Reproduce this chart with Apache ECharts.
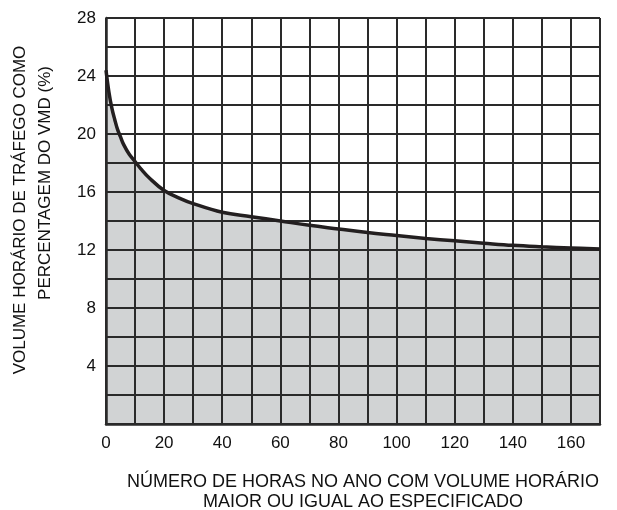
<!DOCTYPE html>
<html>
<head>
<meta charset="utf-8">
<script src="https://cdn.jsdelivr.net/npm/echarts@6/dist/echarts.min.js"></script>
<style>html,body{margin:0;padding:0;background:#fff}#c{width:617px;height:510px}</style>
</head>
<body>
<div id="c"></div>
<script>
const hours = [0, 1, 2, 3, 4, 5, 6, 8, 10, 12, 15, 20, 25, 30, 40, 50, 60, 70, 80, 90, 100, 110, 120, 130, 140, 150, 160, 170];
const volumePct = [24.4, 22.9, 21.8, 21.0, 20.3, 19.8, 19.3, 18.6, 18.1, 17.6, 16.95, 16.1, 15.6, 15.2, 14.6, 14.3, 14.0, 13.7, 13.45, 13.2, 13.0, 12.8, 12.63, 12.47, 12.32, 12.22, 12.14, 12.07];
const xTickLabels = [0, 20, 40, 60, 80, 100, 120, 140, 160];
const yTickLabels = [4, 8, 12, 16, 20, 24, 28];
const yTitle = ['VOLUME HORÁRIO DE TRÁFEGO COMO', 'PERCENTAGEM DO VMD (%)'];
const xTitle = ['NÚMERO DE HORAS NO ANO COM VOLUME HORÁRIO', 'MAIOR OU IGUAL AO ESPECIFICADO'];

const pts = hours.map((h, i) => [h, volumePct[i]]);
const font = '"Liberation Sans", Arial, sans-serif';
const gridColor = '#2a2a2a';

const chart = echarts.init(document.getElementById('c'), null, {renderer: 'canvas'});
chart.setOption({
  animation: false,
  backgroundColor: '#fff',
  grid: {left: 106, right: 17, top: 18, bottom: 86},
  xAxis: {
    type: 'value', min: 0, max: 170, interval: 10, z: 3,
    axisLine: {show: true, lineStyle: {color: gridColor, width: 2.5}},
    axisTick: {show: false},
    splitLine: {show: true, lineStyle: {color: gridColor, width: 2}},
    axisLabel: {
      fontFamily: font, fontSize: 17, color: '#111', margin: 11,
      formatter: v => xTickLabels.includes(v) ? String(v) : ''
    }
  },
  yAxis: {
    type: 'value', min: 0, max: 28, interval: 2, z: 3,
    axisLine: {show: true, lineStyle: {color: gridColor, width: 2.5}},
    axisTick: {show: false},
    splitLine: {show: true, lineStyle: {color: gridColor, width: 2}},
    axisLabel: {
      fontFamily: font, fontSize: 17, color: '#111', margin: 10,
      formatter: v => yTickLabels.includes(v) ? String(v) : ''
    }
  },
  series: [
    {
      type: 'line', data: pts, smooth: 0.4, showSymbol: false, z: 1,
      lineStyle: {width: 0},
      areaStyle: {color: '#d1d3d4', opacity: 1}
    },
    {
      type: 'line', data: pts, smooth: 0.4, showSymbol: false, z: 5,
      lineStyle: {color: '#231f20', width: 3.5}
    }
  ],
  graphic: [
    {type: 'text', x: 20, y: 210, rotation: Math.PI / 2,
     style: {text: yTitle[0], font: '17px ' + font, fill: '#111', align: 'center', verticalAlign: 'middle'}},
    {type: 'text', x: 45, y: 183, rotation: Math.PI / 2,
     style: {text: yTitle[1], font: '17px ' + font, fill: '#111', align: 'center', verticalAlign: 'middle'}},
    {type: 'text', x: 363, y: 482,
     style: {text: xTitle[0], font: '18px ' + font, fill: '#111', align: 'center', verticalAlign: 'middle'}},
    {type: 'text', x: 363, y: 502,
     style: {text: xTitle[1], font: '18px ' + font, fill: '#111', align: 'center', verticalAlign: 'middle'}}
  ]
});
</script>
</body>
</html>
